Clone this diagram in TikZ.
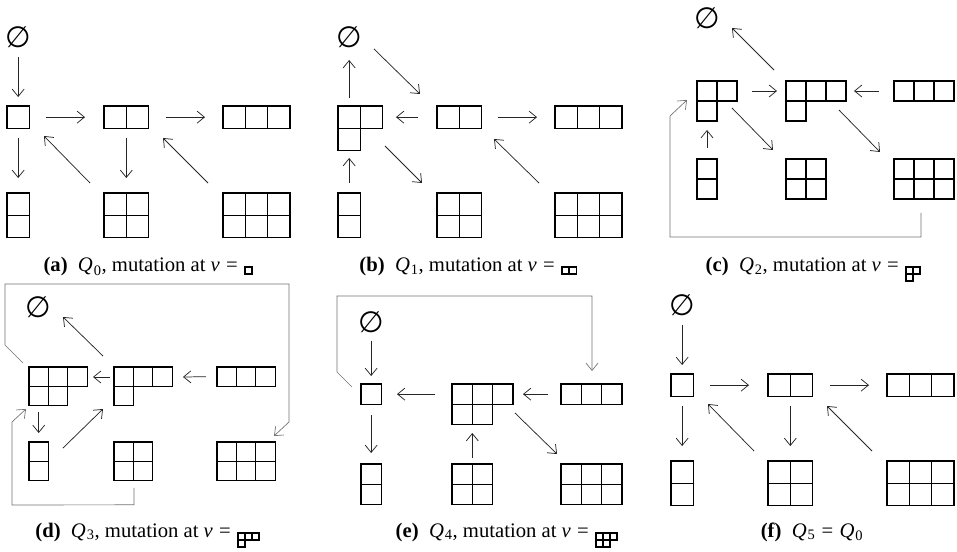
\documentclass[tikz,border=0pt]{standalone}
\usepackage{fontspec}
\setmainfont{Liberation Serif}
\newfontfamily\dejavu{DejaVu Sans}
\usetikzlibrary{arrows.meta,calc}
\tikzset{
  cell/.style={draw=black, line width=0.95pt},
  ydbox/.style={inner sep=0pt, outer sep=0pt, draw=none},
  arr/.style={-{Straight Barb[length=5.5pt,width=9pt]}, line width=0.55pt, black!85},
  wraparr/.style={-{Straight Barb[length=5.5pt,width=9pt]}, line width=0.5pt, black!55},
  empt/.style={inner sep=0pt, font=\dejavu\fontsize{22}{22}\selectfont},
  captxt/.style={inner sep=0pt, font=\fontsize{15.5}{17}\selectfont},
  iconstyle/.style={cell/.style={draw=black, line width=1.25pt}},
}
\newcommand\capsub[2]{\textit{#1}\kern0.04em\textsubscript{#2}}
\newcommand\capeq{\hspace{0.3em}=}
% #1 name, #2 top-left coordinate, #3 cell size, #4 columns, #5 rows, #6 row lengths
\newcommand\yd[6]{%
  \pgfmathsetmacro\ydw{#3*#4*0.75}%
  \pgfmathsetmacro\ydh{#3*#5*0.75}%
  \node[ydbox, minimum width=\ydw pt, minimum height=\ydh pt, anchor=north west] (#1) at #2 {};
  \foreach \len [count=\r from 0] in {#6} {
    \foreach \c in {1,...,\len} {
      \draw[cell] ($(#1.north west)+({(\c-1)*#3},{\r*#3})$) rectangle ++(#3,#3);
    }
  }
}
% the quiver Q0, with prefix #1, shifted by (#2,#3)
\newcommand\qzero[3]{%
\begin{scope}[shift={(#2,#3)}]
\node[empt] (#1-0) at (18.15,37) {∅};
\yd{#1-1}{(7,106)}{22.3}{1}{1}{1}
\yd{#1-2}{(104,106)}{22.3}{2}{1}{2}
\yd{#1-3}{(223,106)}{22.3}{3}{1}{3}
\yd{#1-11}{(7,193)}{22.3}{1}{2}{1,1}
\yd{#1-22}{(104,193)}{22.3}{2}{2}{2,2}
\yd{#1-33}{(223,193)}{22.3}{3}{2}{3,3}
\draw[arr] ($(#1-0.center)+(0,20)$) -- ($(#1-1.north)+(0,-9)$);
\draw[arr] ($(#1-1.east)+(16.7,0)$) -- ($(#1-2.west)+(-19,0)$);
\draw[arr] ($(#1-2.east)+(17.4,0)$) -- ($(#1-3.west)+(-18,0)$);
\draw[arr] ($(#1-1.south)+(0,10)$) -- ($(#1-11.north)+(0,-15)$);
\draw[arr] ($(#1-22.north west)+(-14,-10)$) -- ($(#1-1.south east)+(14.7,7.7)$);
\draw[arr] ($(#1-2.south)+(0,10)$) -- ($(#1-22.north)+(0,-15)$);
\draw[arr] ($(#1-33.north west)+(-15,-10)$) -- ($(#1-2.south east)+(14.4,9.7)$);
\end{scope}}
\begin{document}
\begin{tikzpicture}[x=0.75pt,y=-0.75pt]
\useasboundingbox (0,0) rectangle (957,552);
\fill[white] (0,0) rectangle (957,552);

% (a)
\qzero{a}{0}{0}
\node[captxt, anchor=base east] (capa) at (238,272)
  {\textbf{(a)}\hspace{0.5em}\capsub{Q}{0}, mutation at \textit{v}\capeq};
\begin{scope}[iconstyle]
\yd{capa-v}{($(capa.base east)+(7,-5)$)}{7.2}{1}{1}{1}
\end{scope}

% (b)
\node[empt] (b-0) at (349.15,37) {∅};
\yd{b-21}{(338,106)}{22.3}{2}{2}{2,1}
\yd{b-2}{(437,106)}{22.3}{2}{1}{2}
\yd{b-3}{(555,106)}{22.3}{3}{1}{3}
\yd{b-11}{(338,193)}{22.3}{1}{2}{1,1}
\yd{b-22}{(437,193)}{22.3}{2}{2}{2,2}
\yd{b-33}{(555,193)}{22.3}{3}{2}{3,3}
\draw[arr] ($(b-21.north west)+(11.15,-8)$) -- ($(b-0.center)+(0,23)$);
\draw[arr] ($(b-0.center)+(24.85,12)$) -- ($(b-2.north west)+(-17,-12)$);
\draw[arr] ($(b-2.west)+(-19,0)$) -- ($(b-21.north east)+(13.4,11.15)$);
\draw[arr] ($(b-2.east)+(16.4,0)$) -- ($(b-3.west)+(-18,0)$);
\draw[arr] ($(b-11.north)+(0,-10)$) -- ($(b-21.south west)+(11.15,7.4)$);
\draw[arr] ($(b-21.north east)+(2.4,40)$) -- ($(b-22.north west)+(-15,-10)$);
\draw[arr] ($(b-33.north west)+(-16,-10)$) -- ($(b-2.south east)+(12.4,10.7)$);
\node[captxt, anchor=base east] (capb) at (555,272)
  {\textbf{(b)}\hspace{0.5em}\capsub{Q}{1}, mutation at \textit{v}\capeq};
\begin{scope}[iconstyle]
\yd{capb-v}{($(capb.base east)+(7,-5)$)}{7.2}{2}{1}{2}
\end{scope}

% (c)
\node[empt] (c-0) at (707,18) {∅};
\yd{c-21}{(697,81)}{20}{2}{2}{2,1}
\yd{c-31}{(786,81)}{20}{3}{2}{3,1}
\yd{c-3}{(894,81)}{20}{3}{1}{3}
\yd{c-11}{(697,159)}{20}{1}{2}{1,1}
\yd{c-22}{(786,159)}{20}{2}{2}{2,2}
\yd{c-33}{(894,159)}{20}{3}{2}{3,3}
\draw[arr] ($(c-31.north west)+(-12,-11)$) -- ($(c-0.center)+(25,10)$);
\draw[arr] ($(c-21.north east)+(15,10)$) -- ($(c-31.north west)+(-9,10)$);
\draw[arr] ($(c-3.west)+(-15,0)$) -- ($(c-31.north east)+(8,10)$);
\draw[arr] ($(c-11.north)+(0,-11)$) -- ($(c-21.south west)+(10,9)$);
\draw[arr] ($(c-21.north east)+(-5,27)$) -- ($(c-22.north west)+(-13,-9)$);
\draw[arr] ($(c-31.north east)+(-7,29)$) -- ($(c-33.north west)+(-14,-7)$);
\draw[wraparr] ($(c-33.south)+(-3,14)$) -- ++(0,24)
  -- ($(c-21.north west)+(-27,156)$) -- ($(c-21.north west)+(-27,35)$)
  -- ($(c-21.north west)+(-10,19)$);
\node[captxt, anchor=base east] (capc) at (899,272)
  {\textbf{(c)}\hspace{0.5em}\capsub{Q}{2}, mutation at \textit{v}\capeq};
\begin{scope}[iconstyle]
\yd{capc-v}{($(capc.base east)+(7,-5)$)}{7}{2}{2}{2,1}
\end{scope}

% (d)
\node[empt] (d-0) at (38.7,307) {∅};
\yd{d-32}{(29,367)}{19.4}{3}{2}{3,2}
\yd{d-31}{(114,367)}{19.4}{3}{2}{3,1}
\yd{d-3}{(217,367)}{19.4}{3}{1}{3}
\yd{d-11}{(29,442)}{19.4}{1}{2}{1,1}
\yd{d-22}{(114,442)}{19.4}{2}{2}{2,2}
\yd{d-33}{(217,442)}{19.4}{3}{2}{3,3}
\draw[arr] ($(d-31.north west)+(-11,-11)$) -- ($(d-0.center)+(24.3,10)$);
\draw[arr] ($(d-31.north west)+(-4,10)$) -- ($(d-32.north east)+(5.8,10)$);
\draw[arr] ($(d-3.west)+(-11,0)$) -- ($(d-31.north east)+(10.8,10)$);
\draw[arr] ($(d-32.south west)+(9.7,6.2)$) -- ($(d-11.north)+(0,-9)$);
\draw[arr] ($(d-11.north east)+(14.6,6)$) -- ($(d-31.south west)+(-11,3.2)$);
\draw[wraparr] ($(d-32.north west)+(-6,-4)$) -- ($(d-32.north west)+(-24,-22)$)
  -- ($(d-32.north west)+(-24,-83)$) -- ($(d-33.north east)+(13.8,-158)$)
  -- ($(d-33.north east)+(13.8,-20)$) -- ($(d-33.north east)+(-1.2,-6)$);
\draw[wraparr] ($(d-22.south)+(0.6,7)$) -- ++(0,17)
  -- ($(d-32.south west)+(-17,99.2)$) -- ($(d-32.south west)+(-17,16.2)$)
  -- ($(d-32.south west)+(-3,3.2)$);
\node[captxt, anchor=base east] (capd) at (231,537)
  {\textbf{(d)}\hspace{0.5em}\capsub{Q}{3}, mutation at \textit{v}\capeq};
\begin{scope}[iconstyle]
\yd{capd-v}{($(capd.base east)+(7,-4)$)}{7}{3}{2}{3,1}
\end{scope}

% (e)
\node[empt] (e-0) at (371.15,322) {∅};
\yd{e-1}{(361,384)}{20.3}{1}{1}{1}
\yd{e-32}{(452,384)}{20.3}{3}{2}{3,2}
\yd{e-3}{(561,384)}{20.3}{3}{1}{3}
\yd{e-11}{(361,464)}{20.3}{1}{2}{1,1}
\yd{e-22}{(452,464)}{20.3}{2}{2}{2,2}
\yd{e-33}{(561,464)}{20.3}{3}{2}{3,3}
\draw[arr] ($(e-0.center)+(0,19)$) -- ($(e-1.north)+(0,-8)$);
\draw[arr] ($(e-32.north west)+(-17,10.15)$) -- ($(e-1.east)+(15.7,0)$);
\draw[arr] ($(e-3.west)+(-13,0)$) -- ($(e-32.north east)+(10.1,10.15)$);
\draw[arr] ($(e-1.south)+(0,11)$) -- ($(e-11.north)+(0,-11)$);
\draw[arr] ($(e-22.north)+(0,-6)$) -- ($(e-32.south west)+(20.3,8.4)$);
\draw[arr] ($(e-32.north east)+(2.1,29)$) -- ($(e-33.north west)+(-4,-10)$);
\draw[wraparr] ($(e-1.north west)+(-9,3)$) -- ($(e-1.north west)+(-24,-12)$)
  -- ($(e-1.north west)+(-24,-88)$) -- ($(e-3.north)+(0.55,-88)$)
  -- ($(e-3.north)+(0.55,-13)$);
\node[captxt, anchor=base east] (cape) at (589,537)
  {\textbf{(e)}\hspace{0.5em}\capsub{Q}{4}, mutation at \textit{v}\capeq};
\begin{scope}[iconstyle]
\yd{cape-v}{($(cape.base east)+(7,-4)$)}{7}{3}{2}{3,2}
\end{scope}

% (f)
\qzero{f}{664}{268}
\node[captxt, anchor=base] (capf) at (812,537)
  {\textbf{(f)}\hspace{0.5em}\capsub{Q}{5}\capeq\hspace{0.3em}\capsub{Q}{0}};
\end{tikzpicture}
\end{document}
